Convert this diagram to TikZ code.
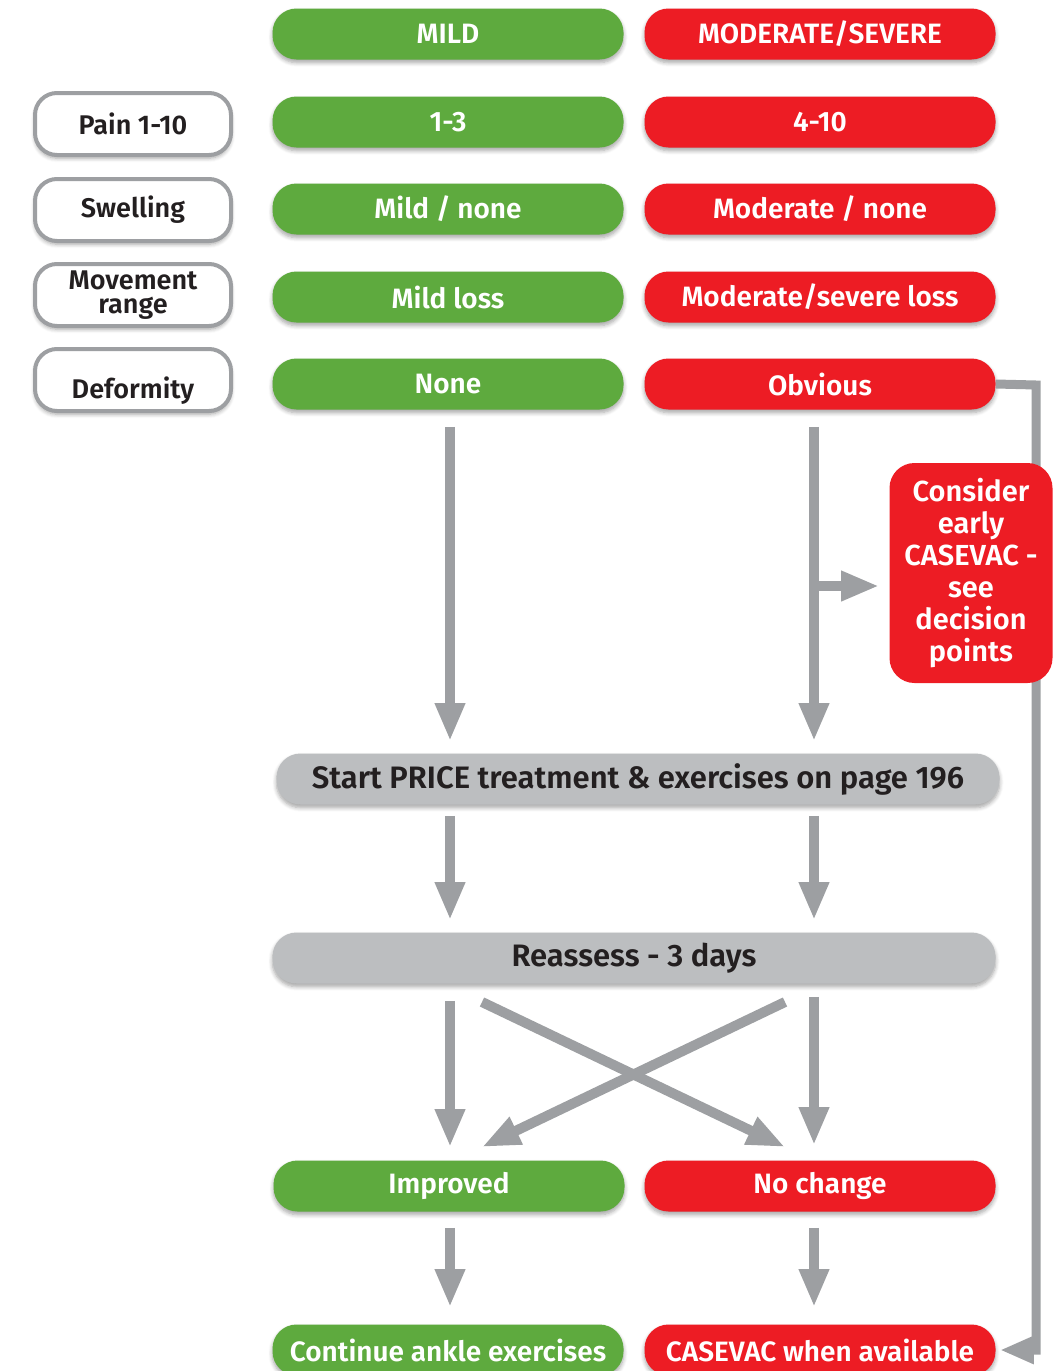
\documentclass[tikz,border=0pt]{standalone}
\usepackage{fontspec}
\setmainfont{Fira Sans}[BoldFont={Fira Sans SemiBold}]
\usetikzlibrary{arrows.meta,shadows.blur}
\definecolor{mildgreen}{HTML}{5EAA3E}
\definecolor{sevred}{HTML}{ED1C24}
\definecolor{flowgray}{HTML}{9D9FA2}
\definecolor{boxgray}{HTML}{BCBEC0}
\definecolor{inkdark}{HTML}{231F20}

\begin{document}
\begin{tikzpicture}[x=0.5pt,y=-0.5pt,
  softshadow/.style={blur shadow={shadow xshift=0pt, shadow yshift=-1.6pt,
      shadow blur steps=6, shadow blur radius=2pt, shadow opacity=35}},
  pill/.style={rounded corners=12pt, minimum width=175.5pt, minimum height=25.5pt,
      inner sep=0pt, font=\fontsize{14}{16}\selectfont\bfseries, softshadow},
  mild/.style={pill, fill=mildgreen, text=white},
  severe/.style={pill, fill=sevred, text=white},
  greybar/.style={pill, fill=boxgray, text=inkdark, minimum width=361.5pt,
      font=\fontsize{15.5}{16}\selectfont\bfseries},
  factor/.style={draw=flowgray, line width=2pt, fill=white, rounded corners=11pt,
      minimum width=98pt, minimum height=31pt, inner sep=0pt, text=inkdark,
      align=center, font=\fontsize{13.5}{12}\selectfont\bfseries, softshadow},
  flow/.style={draw=flowgray, line width=5pt, -{Triangle[width=14pt,length=19pt]}},
  sideflow/.style={draw=flowgray, line width=4.5pt, -{Triangle[width=13pt,length=17pt]}},
]
\useasboundingbox (0,0) rectangle (1053,1371);
\clip (0,0) rectangle (1053,1371);

% column headers
\node[mild]   (mild)   at (448,34)  {MILD};
\node[severe] (severe) at (820,34)  {MODERATE/SEVERE};

% assessment factors
\node[factor] (pain)  at (133,124) {Pain 1-10};
\node[factor] (swell) at (133,210) {Swelling};
\node[factor] (move)  at (133,295) {Movement\\range};
\node[factor] (deform) at (133,380) {\raisebox{-9pt}[0pt][0pt]{Deformity}};

% grading per factor
\node[mild]   (painm)   at (448,122) {1-3};
\node[severe] (pains)   at (820,122) {4-10};
\node[mild]   (swellm)  at (448,209) {Mild / none};
\node[severe] (swells)  at (820,209) {Moderate / none};
\node[mild]   (movem)   at (448,297) {Mild loss};
\node[severe] (moves)   at (820,297) {Moderate/severe loss};
\node[mild]   (none)    at (448,384) {None};
\node[severe] (obvious) at (820,384) {Obvious};

% treatment and review
\node[greybar] (price)    at (638,779) {Start PRICE treatment \& exercises on page 196};
\node[greybar] (reassess) at (634,958) {Reassess - 3 days};

% outcomes
\node[mild]   (improved) at (449,1186) {Improved};
\node[severe] (nochange) at (820,1186) {No change};
\node[mild]   (cont)     at (448,1350) {Continue ankle exercises};
\node[severe] (evac)     at (820,1350) {CASEVAC when available};

% obvious deformity: straight to evacuation
\draw[sideflow] (obvious.east) -- (1036,385) -- (1036,1350) -- ([xshift=2pt]evac.east);

% early evacuation advice
\node[fill=sevred, text=white, rounded corners=12.5pt, minimum width=81.5pt,
      minimum height=110pt, inner sep=0pt, align=center,
      font=\fontsize{14.5}{16}\selectfont\bfseries] (early) at (971,573)
  {Consider\\early\\CASEVAC -\\see\\decision\\points};

% main flow
\coordinate (lcol) at (450,0);
\coordinate (rcol) at (814,0);
\draw[flow] ([yshift=-8.5pt]none.south -| lcol) -- ([yshift=6pt]price.north -| lcol);
\draw[flow] ([yshift=-8.5pt]obvious.south -| rcol) -- ([yshift=6pt]price.north -| rcol);
\coordinate (branch) at (814,586);
\draw[flow] (branch) -- ([xshift=-5pt]early.west |- branch);

\draw[flow] ([yshift=-5.5pt]price.south -| lcol) -- ([yshift=6pt]reassess.north -| lcol);
\draw[flow] ([yshift=-5.5pt]price.south -| rcol) -- ([yshift=6pt]reassess.north -| rcol);

\draw[flow] ([yshift=-8.5pt]reassess.south -| lcol) -- ([yshift=6.5pt]improved.north -| lcol);
\draw[flow] ([yshift=-6.5pt]reassess.south -| rcol) -- ([yshift=7.5pt]nochange.north -| rcol);
\coordinate (xa) at (482,1002);
\coordinate (xb) at (785,1147);
\coordinate (xc) at (785,1002);
\coordinate (xd) at (482,1147);
\draw[flow] (xa) -- (xb);
\draw[flow] (xc) -- (xd);

\draw[flow] ([yshift=-8pt]improved.south -| lcol) -- ([yshift=8.5pt]cont.north -| lcol);
\draw[flow] ([yshift=-8pt]nochange.south -| rcol) -- ([yshift=8.5pt]evac.north -| rcol);
\end{tikzpicture}
\end{document}
